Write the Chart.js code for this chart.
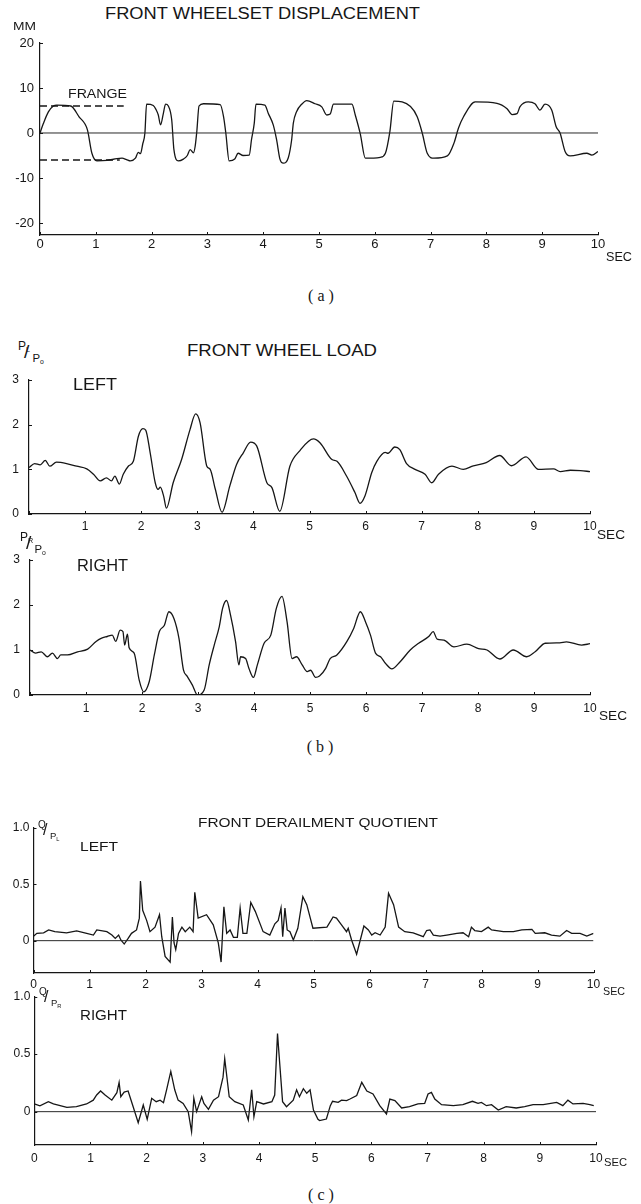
<!DOCTYPE html>
<html><head><meta charset="utf-8">
<script src="https://cdn.jsdelivr.net/npm/chart.js@4.4.1/dist/chart.umd.min.js"></script>
<style>
html,body{margin:0;padding:0;background:#fff;}
body{width:641px;height:1204px;position:relative;overflow:hidden;}
.p{position:absolute;left:0;}
.t{position:absolute;white-space:nowrap;line-height:1;font-family:"Liberation Sans",Arial,sans-serif;color:#161616;transform-origin:0 0;}
.t sub{font-size:0.6em;vertical-align:baseline;position:relative;top:0.3em;}
</style></head><body>
<script>
// ---------- DATA ----------
const timeTicks = [0,1,2,3,4,5,6,7,8,9,10];
const dispTicks = [-20,-10,0,10,20];
const loadTicks = [0,1,2,3];
const quotTicks = [0,0.5,1.0];
const quotTickLabels = ['0','0.5','1.0'];
const flangeLimit = 6;            // mm
const flangeUpperEnd = 1.5;       // sec
const flangeLowerEnd = 1.43;      // sec

// (a) front wheelset displacement [sec, mm]
const wheelsetDisp = [[0,0],[0.06,2.1],[0.15,4.7],[0.24,6],[0.3,6.2],[0.55,6],[0.7,3.6],[0.85,0.7],[0.93,-4.5],[1.02,-6.2],[1.2,-6.1],[1.38,-5.7],[1.47,-5.6],[1.55,-5.9],[1.62,-6.2],[1.71,-5.6],[1.76,-4.3],[1.8,-4.6],[1.84,-2.5],[1.88,0],[1.91,6.4],[2.03,6.1],[2.08,5.2],[2.12,4],[2.16,1.8],[2.21,4.3],[2.25,6.4],[2.3,6],[2.36,3],[2.4,-3.7],[2.48,-6.2],[2.57,-5.8],[2.64,-5],[2.69,-3.7],[2.75,-4.4],[2.78,-3],[2.81,0.3],[2.85,6],[2.93,6.5],[3.23,6.3],[3.29,3.6],[3.33,0],[3.39,-6.2],[3.49,-5.8],[3.55,-4.5],[3.64,-5],[3.75,-4.9],[3.79,-1.5],[3.84,2.2],[3.87,6.4],[4.03,6.2],[4.09,4.4],[4.18,1.8],[4.24,-1.5],[4.3,-5.8],[4.36,-6.7],[4.45,-5.5],[4.51,-1.5],[4.54,2.2],[4.6,4.8],[4.69,6.4],[4.78,7.2],[4.93,6.5],[5.05,5.8],[5.14,4],[5.2,4.2],[5.26,6.4],[5.59,6.4],[5.65,4],[5.74,-0.2],[5.83,-5.6],[6.1,-5.4],[6.19,-4.5],[6.27,0.3],[6.34,7.1],[6.64,5.9],[6.76,3.6],[6.85,0],[6.94,-4.5],[7.06,-5.6],[7.3,-5.1],[7.42,-2.2],[7.5,1.1],[7.59,3.6],[7.8,6.9],[8.19,6.6],[8.37,5.4],[8.46,4.1],[8.55,4.3],[8.6,5.8],[8.75,6.9],[8.87,6.5],[8.96,5.1],[9.05,6.4],[9.17,5.1],[9.25,1.4],[9.32,0],[9.41,-4.1],[9.5,-5.1],[9.8,-4.5],[9.89,-4.9],[10,-4.1]];

// (b) front wheel load, left [sec, PL/P0]
const wheelLoadLeft = [[0,1.04],[0.1,1.13],[0.2,1.1],[0.29,1.2],[0.37,1.07],[0.49,1.16],[0.67,1.13],[0.85,1.07],[1.03,1.01],[1.15,0.89],[1.27,0.74],[1.38,0.81],[1.47,0.74],[1.53,0.85],[1.61,0.67],[1.68,0.89],[1.77,1.07],[1.86,1.18],[1.95,1.74],[2.03,1.91],[2.08,1.88],[2.16,1.37],[2.25,0.7],[2.3,0.55],[2.34,0.6],[2.4,0.4],[2.45,0.13],[2.57,0.7],[2.72,1.22],[2.87,1.89],[2.97,2.24],[3.05,2.04],[3.17,1.07],[3.23,1.0],[3.32,0.56],[3.44,0.04],[3.58,0.63],[3.7,1.11],[3.82,1.37],[3.95,1.61],[4.06,1.52],[4.24,0.7],[4.33,0.59],[4.47,0.06],[4.65,1.07],[4.83,1.42],[5.07,1.68],[5.19,1.59],[5.4,1.22],[5.49,1.18],[5.66,0.85],[5.81,0.48],[5.9,0.24],[5.99,0.41],[6.11,0.93],[6.2,1.18],[6.35,1.38],[6.4,1.36],[6.52,1.5],[6.61,1.44],[6.73,1.13],[6.88,1.0],[7.06,0.89],[7.18,0.7],[7.3,0.89],[7.54,1.07],[7.74,1.0],[7.92,1.08],[8.15,1.15],[8.39,1.31],[8.6,1.08],[8.86,1.28],[9.08,1.0],[9.35,1.01],[9.47,0.95],[9.65,0.98],[9.83,0.97],[10,0.95]];

// (b) front wheel load, right [sec, PR/P0]
const wheelLoadRight = [[0,1.0],[0.1,0.93],[0.2,0.96],[0.31,0.85],[0.4,0.93],[0.49,0.81],[0.55,0.89],[0.67,0.89],[0.85,0.96],[1.03,1.02],[1.18,1.19],[1.27,1.26],[1.38,1.3],[1.47,1.33],[1.53,1.19],[1.61,1.44],[1.66,1.41],[1.69,1.11],[1.74,1.35],[1.77,1.05],[1.86,0.93],[1.95,0.33],[2.03,0.07],[2.13,0.3],[2.22,0.89],[2.31,1.41],[2.4,1.55],[2.48,1.85],[2.57,1.7],[2.66,1.26],[2.74,0.56],[2.81,0.41],[2.9,0.22],[2.99,0.0],[3.11,0.11],[3.2,0.67],[3.29,1.11],[3.38,1.52],[3.44,1.93],[3.51,2.1],[3.58,1.78],[3.67,1.19],[3.73,0.67],[3.76,0.85],[3.85,0.81],[3.91,0.59],[3.99,0.39],[4.06,0.67],[4.18,1.15],[4.3,1.33],[4.4,1.93],[4.5,2.19],[4.59,1.63],[4.68,0.81],[4.76,0.85],[4.86,0.67],[4.95,0.52],[5.01,0.55],[5.1,0.39],[5.17,0.42],[5.28,0.59],[5.36,0.81],[5.48,0.89],[5.66,1.19],[5.78,1.48],[5.9,1.85],[5.99,1.63],[6.08,1.33],[6.17,0.93],[6.26,0.85],[6.35,0.7],[6.46,0.58],[6.61,0.74],[6.79,1.0],[6.94,1.15],[7.12,1.3],[7.2,1.41],[7.27,1.24],[7.39,1.22],[7.57,1.07],[7.8,1.13],[8.01,1.03],[8.16,1.0],[8.39,0.8],[8.63,1.0],[8.87,0.85],[9.02,0.96],[9.2,1.15],[9.46,1.16],[9.58,1.18],[9.85,1.11],[10,1.14]];

// (c) front derailment quotient, left [sec, Q/PL]
const derailLeft = [[0,0.04],[0.06,0.065],[0.18,0.07],[0.27,0.095],[0.38,0.08],[0.59,0.07],[0.77,0.086],[0.95,0.065],[1.07,0.05],[1.13,0.095],[1.31,0.08],[1.4,0.05],[1.46,0.02],[1.52,0.05],[1.56,0.006],[1.62,-0.03],[1.69,0.02],[1.75,0.065],[1.84,0.095],[1.89,0.2],[1.91,0.53],[1.95,0.27],[2.02,0.18],[2.08,0.08],[2.17,0.12],[2.25,0.23],[2.29,0.035],[2.35,-0.14],[2.44,-0.19],[2.48,0.21],[2.51,-0.02],[2.54,-0.08],[2.59,0.065],[2.65,0.12],[2.71,0.08],[2.79,0.12],[2.85,0.08],[2.88,0.43],[2.94,0.2],[3.09,0.23],[3.21,0.14],[3.3,-0.02],[3.35,-0.19],[3.4,0.3],[3.45,0.065],[3.51,0.095],[3.57,0.03],[3.64,0.03],[3.69,0.29],[3.74,0.065],[3.81,0.065],[3.88,0.34],[3.96,0.26],[4.1,0.08],[4.22,0.05],[4.31,0.15],[4.37,0.18],[4.42,0.29],[4.45,0.035],[4.49,0.29],[4.53,0.095],[4.58,0.08],[4.64,0.006],[4.72,0.11],[4.81,0.39],[4.88,0.32],[4.99,0.11],[5.24,0.12],[5.35,0.21],[5.41,0.2],[5.5,0.14],[5.59,0.08],[5.62,0.11],[5.68,0.006],[5.77,-0.12],[5.9,0.13],[5.98,0.095],[6.04,0.05],[6.1,0.07],[6.19,0.05],[6.28,0.12],[6.34,0.42],[6.43,0.32],[6.52,0.12],[6.63,0.08],[6.78,0.07],[6.96,0.035],[7.02,0.09],[7.08,0.095],[7.14,0.05],[7.26,0.04],[7.38,0.05],[7.56,0.065],[7.67,0.07],[7.77,0.035],[7.82,0.12],[7.88,0.09],[8.0,0.08],[8.12,0.12],[8.18,0.095],[8.39,0.08],[8.57,0.08],[8.72,0.095],[8.9,0.1],[8.96,0.065],[9.13,0.07],[9.25,0.05],[9.4,0.04],[9.52,0.09],[9.61,0.065],[9.76,0.065],[9.88,0.04],[10,0.065]];

// (c) front derailment quotient, right [sec, Q/PR]
const derailRight = [[0,0.067],[0.1,0.05],[0.25,0.087],[0.34,0.067],[0.58,0.038],[0.75,0.043],[0.93,0.067],[1.05,0.1],[1.11,0.145],[1.18,0.18],[1.26,0.145],[1.38,0.1],[1.47,0.165],[1.51,0.255],[1.54,0.13],[1.6,0.17],[1.67,0.18],[1.76,0.043],[1.85,-0.096],[1.94,0.058],[2.01,-0.067],[2.09,0.116],[2.17,0.087],[2.24,0.1],[2.3,0.078],[2.355,0.19],[2.43,0.35],[2.5,0.19],[2.56,0.1],[2.65,0.072],[2.74,0],[2.8,-0.174],[2.84,0.116],[2.89,0.0],[2.98,0.13],[3.02,0.072],[3.1,0.02],[3.19,0.1],[3.28,0.13],[3.36,0.3],[3.39,0.46],[3.47,0.13],[3.57,0.087],[3.72,0.058],[3.81,-0.072],[3.87,0.19],[3.91,-0.043],[3.96,0.087],[4.08,0.067],[4.23,0.087],[4.28,0.145],[4.33,0.68],[4.36,0.48],[4.42,0.087],[4.49,0.043],[4.61,0.1],[4.67,0.19],[4.72,0.13],[4.79,0.2],[4.85,0.16],[4.91,0.19],[4.97,0.014],[5.05,-0.067],[5.08,-0.078],[5.2,-0.064],[5.27,0.052],[5.31,0.09],[5.41,0.081],[5.47,0.1],[5.56,0.096],[5.62,0.11],[5.74,0.14],[5.83,0.255],[5.92,0.18],[6.03,0.154],[6.15,0.052],[6.27,-0.02],[6.33,0.11],[6.42,0.096],[6.54,0.032],[6.68,0.043],[6.83,0.067],[6.95,0.072],[7.01,0.154],[7.07,0.168],[7.13,0.11],[7.25,0.061],[7.46,0.052],[7.63,0.061],[7.8,0.09],[7.9,0.072],[7.96,0.081],[8.05,0.052],[8.14,0.061],[8.26,0.014],[8.4,0.043],[8.58,0.032],[8.73,0.043],[8.88,0.061],[9.06,0.061],[9.3,0.081],[9.41,0.052],[9.5,0.1],[9.59,0.067],[9.77,0.072],[9.89,0.061],[9.96,0.052]];

// ---------- RENDERING ----------
const INK = '#161616';
Chart.defaults.font.family = '"Liberation Sans", Arial, sans-serif';
Chart.defaults.color = INK;

const inwardTicks = {
  id: 'inwardTicks',
  afterDatasetsDraw(chart) {
    const ctx = chart.ctx, xs = chart.scales.x, ys = chart.scales.y;
    ctx.save(); ctx.strokeStyle = INK; ctx.lineWidth = 1;
    xs.ticks.forEach(t => { const p = Math.round(xs.getPixelForValue(t.value)) + 0.5;
      ctx.beginPath(); ctx.moveTo(p, xs.top); ctx.lineTo(p, xs.top - 3); ctx.stroke(); });
    ys.ticks.forEach(t => { const p = Math.round(ys.getPixelForValue(t.value)) + 0.5;
      ctx.beginPath(); ctx.moveTo(ys.right, p); ctx.lineTo(ys.right + 3, p); ctx.stroke(); });
    ctx.restore();
  }
};

function toXY(arr){ return arr.map(p => ({x:p[0], y:p[1]})); }

function makePanel(cfg){
  const W = 641, XH = 20;
  const YW = Math.floor(cfg.chartL) - 1;
  const div = document.createElement('div');
  div.className = 'p'; div.style.top = cfg.top + 'px';
  const cv = document.createElement('canvas');
  cv.width = W; cv.height = cfg.height;
  cv.style.width = W + 'px'; cv.style.height = cfg.height + 'px';
  div.appendChild(cv); document.body.appendChild(div);
  const datasets = cfg.series.map(s => Object.assign({
    data: toXY(s.data), borderColor: INK, borderWidth: 1.3, pointRadius: 0, tension: 0, fill: false
  }, cfg.smooth ? { cubicInterpolationMode: 'monotone' } : {}, s.style || {}));
  const zeroPads = s => { s.paddingLeft = 0; s.paddingRight = 0; s.paddingTop = 0; s.paddingBottom = 0; };
  new Chart(cv, {
    type: 'line',
    data: { datasets },
    plugins: [inwardTicks],
    options: {
      responsive: false, animation: false, devicePixelRatio: 1,
      plugins: { legend: {display:false}, tooltip: {enabled:false} },
      layout: { padding: {
        left: cfg.chartL - YW, right: W - cfg.chartR,
        top: cfg.chartT - cfg.top, bottom: cfg.top + cfg.height - cfg.chartB - XH } },
      scales: {
        x: { type: 'linear', min: 0, max: 10,
          grid: { display: true, drawOnChartArea: false, drawTicks: false },
          border: { display: true, color: INK, width: 1.2 },
          afterBuildTicks: s => { s.ticks = timeTicks.map(v => ({value: v})); },
          afterFit: s => { s.height = XH; zeroPads(s); },
          ticks: { padding: cfg.xPad, maxRotation: 0, autoSkip: false,
            font: { size: cfg.font }, color: INK,
            callback: v => (cfg.xSkipZero && v === 0) ? '' : String(v) } },
        y: { type: 'linear', min: cfg.yMin, max: cfg.yMax,
          grid: { display: true, drawOnChartArea: false, drawTicks: false },
          border: { display: true, color: INK, width: 1.2 },
          afterBuildTicks: s => { s.ticks = cfg.yTicks.map(v => ({value: v})); },
          afterFit: s => { s.width = YW; zeroPads(s); },
          ticks: { padding: cfg.yPad, font: { size: cfg.font }, color: INK,
            callback: (v, i) => cfg.yLabels ? cfg.yLabels[i] : String(v) } }
      }
    }
  });
}

const zeroRef = [[0,0],[10,0]];
const thin = { borderWidth: 1, borderColor: '#2a2a2a', cubicInterpolationMode: 'default' };
const dashed = { borderWidth: 1.3, borderDash: [7,4], cubicInterpolationMode: 'default' };

makePanel({ top: 30, height: 250, chartL: 40, chartR: 598, chartT: 43, chartB: 235,
  yMin: -22.67, yMax: 20, yTicks: dispTicks, font: 13, xPad: 2, yPad: 6, smooth: true,
  series: [
    { data: zeroRef, style: thin },
    { data: [[0, flangeLimit],[flangeUpperEnd, flangeLimit]], style: dashed },
    { data: [[0, -flangeLimit],[flangeLowerEnd, -flangeLimit]], style: dashed },
    { data: wheelsetDisp }
  ]});

makePanel({ top: 370, height: 175, chartL: 29, chartR: 590, chartT: 380, chartB: 514,
  yMin: 0, yMax: 3, yTicks: loadTicks, font: 12, xPad: 5, yPad: 10, xSkipZero: true, smooth: true,
  series: [ { data: wheelLoadLeft } ]});

makePanel({ top: 550, height: 180, chartL: 30, chartR: 590, chartT: 560, chartB: 695,
  yMin: 0, yMax: 3, yTicks: loadTicks, font: 12, xPad: 6, yPad: 10, xSkipZero: true, smooth: true,
  series: [ { data: wheelLoadRight } ]});

makePanel({ top: 818, height: 185, chartL: 33.5, chartR: 593.5, chartT: 828, chartB: 973,
  yMin: -0.287, yMax: 1.0, yTicks: quotTicks, yLabels: quotTickLabels, font: 12, xPad: 4, yPad: 4,
  series: [ { data: zeroRef, style: thin }, { data: derailLeft } ]});

makePanel({ top: 988, height: 190, chartL: 34.3, chartR: 596, chartT: 996.7, chartB: 1145,
  yMin: -0.29, yMax: 1.0, yTicks: quotTicks, yLabels: quotTickLabels, font: 12, xPad: 6, yPad: 4,
  series: [ { data: zeroRef, style: thin }, { data: derailRight } ]});

// ---------- TEXT ----------
function addText(html, x, cy, size, opt){
  opt = opt || {};
  const d = document.createElement('div');
  d.className = 't'; d.innerHTML = html;
  d.style.fontSize = size + 'px';
  if (opt.family) d.style.fontFamily = opt.family;
  d.style.top = (cy - 0.49 * size) + 'px';
  document.body.appendChild(d);
  const w = d.getBoundingClientRect().width;
  let sx = 1;
  if (opt.width) sx = opt.width / w;
  const left = opt.center ? x - (opt.width || w) / 2 : x;
  d.style.left = left + 'px';
  d.style.transform = 'scaleX(' + sx + ')';
}
function ratioLabel(num, sub1, sub2, x, cy, size){
  addText(num + (sub1 ? '<sub>' + sub1 + '</sub>' : ''), x, cy, size);
  addText('/', x + 0.5 * size, cy + 0.45 * size, size * 1.6);
  addText('P<sub>' + sub2 + '</sub>', x + 1.2 * size, cy + 1.05 * size, size * 0.95);
}
const serif = '"Liberation Serif","DejaVu Serif",serif';

addText('FRONT WHEELSET DISPLACEMENT', 105, 14, 16, {width: 315});
addText('MM', 13, 26, 11, {width: 23});
addText('FRANGE', 68, 94, 13.5, {width: 59});
addText('SEC', 606, 257, 12, {width: 26});
addText('( a )', 321, 296, 16, {family: serif, center: true});

addText('FRONT WHEEL LOAD', 187, 351, 16, {width: 190});
ratioLabel('P', 'L', 'o', 18, 346, 12);
addText('LEFT', 73, 384, 17, {width: 44});
addText('SEC', 597, 535, 12, {width: 28});
ratioLabel('P', 'R', 'o', 20, 537, 12);
addText('RIGHT', 77, 565, 17, {width: 51});
addText('SEC', 599, 716, 12, {width: 28});
addText('( b )', 320, 747, 16, {family: serif, center: true});

addText('FRONT DERAILMENT QUOTIENT', 198, 822, 13, {width: 240});
ratioLabel('Q', '', 'L', 38, 825, 10);
addText('LEFT', 80, 846, 13, {width: 38});
addText('SEC', 603, 991, 11, {width: 22});
ratioLabel('Q', '', 'R', 39, 992, 10);
addText('RIGHT', 80, 1015, 14, {width: 47});
addText('SEC', 604, 1162, 11, {width: 23});
addText('( c )', 321, 1195, 16, {family: serif, center: true});
</script>
</body></html>
